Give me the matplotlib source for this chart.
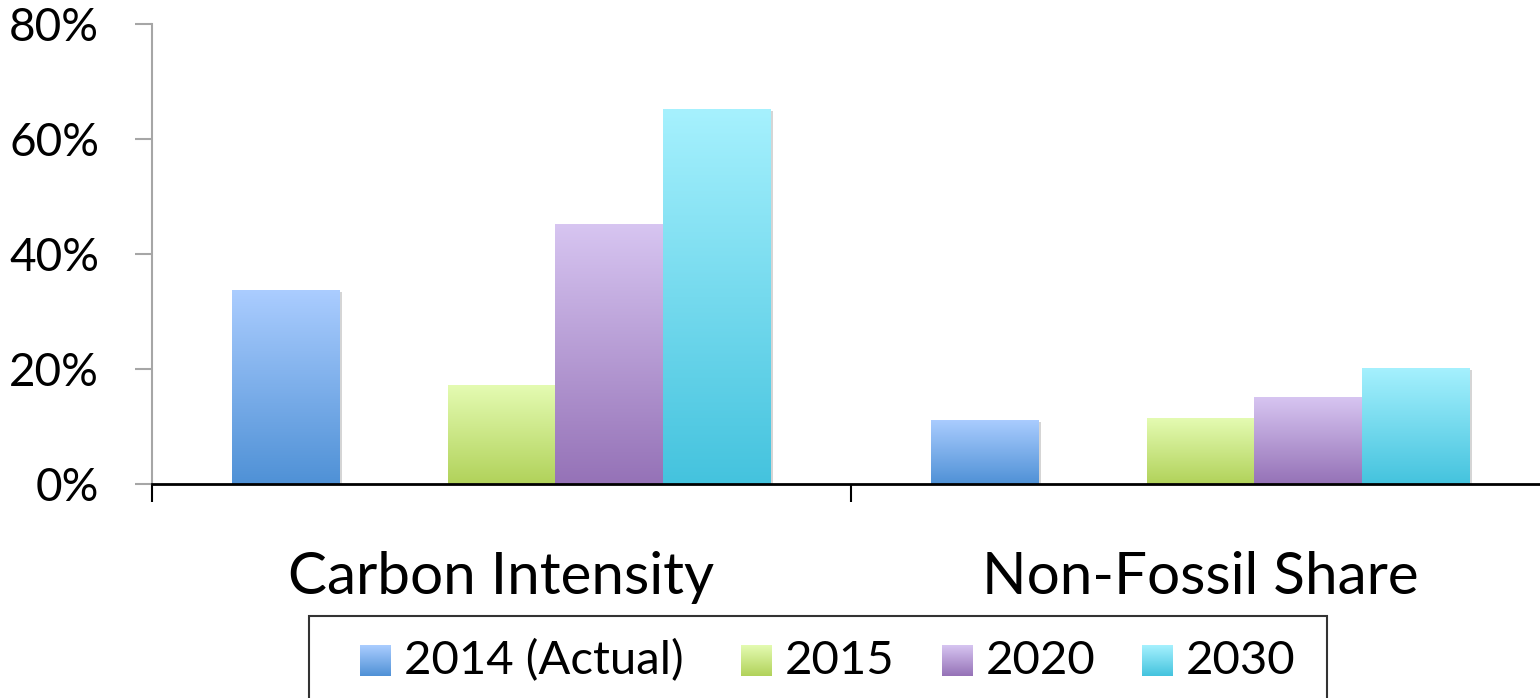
import numpy as np
import matplotlib
matplotlib.use("Agg")
import matplotlib.pyplot as plt
from matplotlib.colors import LinearSegmentedColormap
from matplotlib.patches import Rectangle
import matplotlib.patheffects as pe

plt.rcParams['font.family'] = ['Lato', 'DejaVu Sans']

categories = ['Carbon Intensity', 'Non-Fossil Share']
series = ['2014 (Actual)', '2015', '2020', '2030']
# slot of each series inside a group (slot 1 stays empty in the original)
slots = [0, 2, 3, 4]
values = {
    '2014 (Actual)': [33.8, 11.2],
    '2015': [17.2, 11.4],
    '2020': [45.2, 15.1],
    '2030': [65.2, 20.2],
}
grad_colors = {
    '2014 (Actual)': ('#4f91d6', '#abcdff'),
    '2015': ('#b1d25a', '#e4fbb2'),
    '2020': ('#9572b7', '#d7c5f1'),
    '2030': ('#44c3de', '#a6f1fe'),
}
yticks = [0, 20, 40, 60, 80]

fig = plt.figure(figsize=(15.4, 6.98), dpi=100)
ax = fig.add_axes([152 / 1540, 214 / 698, 1398 / 1540, 460 / 698])

n_slots = 5
width = 0.1543
grad = np.linspace(0, 1, 256).reshape(-1, 1)

for s, slot in zip(series, slots):
    x = np.arange(len(categories)) + 0.5 + (slot - (n_slots - 1) / 2) * width
    bars = ax.bar(x, values[s], width=width, color='white', linewidth=0, zorder=2)
    cmap = LinearSegmentedColormap.from_list(s, grad_colors[s])
    for rect in bars:
        rect.set_path_effects([pe.SimplePatchShadow(offset=(1.5, -1.5), shadow_rgbFace='#888888', alpha=0.35),
                               pe.Normal()])
        x0, y0 = rect.get_x(), rect.get_y()
        im = ax.imshow(grad, cmap=cmap, origin='lower', aspect='auto', interpolation='bilinear',
                       extent=[x0, x0 + rect.get_width(), y0, y0 + rect.get_height()], zorder=3)
        im.set_clip_path(rect)

ax.set_xlim(0, 2)
ax.set_ylim(0, 80)

for side in ['top', 'right']:
    ax.spines[side].set_visible(False)
ax.spines['left'].set_color('#a6a6a6')
ax.spines['left'].set_linewidth(1.5)
ax.spines['bottom'].set_color('black')
ax.spines['bottom'].set_linewidth(2)
ax.spines['bottom'].set_zorder(4)

ax.set_yticks(yticks)
ax.set_yticklabels([f'{v}%' for v in yticks])
ax.tick_params(axis='y', length=12, width=1.5, color='#a6a6a6', pad=26, labelsize=33)

ax.set_xticks([0, 1, 2])
ax.set_xticklabels(['', '', ''])
ax.tick_params(axis='x', which='major', length=13, width=1.5, color='black', direction='out')
ax.set_xticks([0.5, 1.5], minor=True)
ax.set_xticklabels(categories, minor=True)
ax.tick_params(axis='x', which='minor', length=0, pad=48, labelsize=42)

# legend box drawn by hand so the swatches keep their gradient
fig.patches.append(Rectangle((309 / 1540, -0.05), (1327 - 309) / 1540, (698 - 616) / 698 + 0.05,
                             transform=fig.transFigure, facecolor='white', edgecolor='#333333',
                             linewidth=1.5, zorder=-1))
sw_x = [360, 741, 942, 1142]
for s, sx in zip(series, sw_x):
    sax = fig.add_axes([sx / 1540, (698 - 676) / 698, 31 / 1540, 31 / 698])
    sax.set_zorder(2)
    sax.imshow(grad, cmap=LinearSegmentedColormap.from_list(s, grad_colors[s]), origin='lower',
               aspect='auto', interpolation='bilinear')
    sax.set_axis_off()
    fig.text((sx + 44) / 1540, (698 - 661) / 698, s, fontsize=34, va='center', ha='left')

fig.savefig('out.png', dpi=100)
